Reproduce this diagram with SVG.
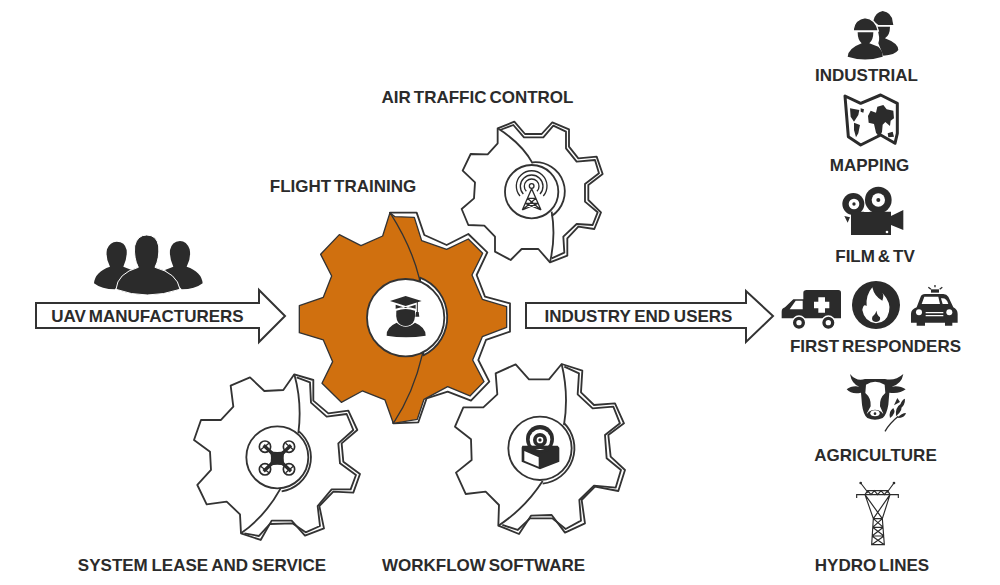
<svg xmlns="http://www.w3.org/2000/svg" width="1000" height="585" viewBox="0 0 1000 585">
<style>
text{font-family:"Liberation Sans",Arial,sans-serif;font-weight:700;font-size:17px;fill:#2b2b2b;text-anchor:middle;word-spacing:-1.8px}
.n{word-spacing:-1px}
.g{fill:#fff;stroke:#333;stroke-width:5.500;stroke-linejoin:round}
.l{fill:none;stroke:#333;stroke-width:5.500;stroke-linejoin:round}
.o{fill:#d0700f;stroke:#333;stroke-width:4;stroke-linejoin:round}
.d{fill:#2b2b2b}
.w{fill:#fff}
.t{fill:none;stroke:#2b2b2b;stroke-width:4}
.a{fill:#fff;stroke:#333;stroke-width:2}
</style>
<rect width="1000" height="585" fill="#fff"/>
<g id="connectors">
<path class="a" d="M36 303H259V290L285 316 259 342V328H36Z"/>
<path class="a" d="M526 303H746V291L773 316 746 342V328H526Z"/>
</g>
<g id="gear-air-traffic" transform="translate(450 110) scale(.3333)">
<path class="g" d="M143 55L143 100 113 133 62 132 38 182 75 217 72 265 35 297 55 345 103 347 135 380 135 425 182 450 215 417 265 417 300 457 352 437 352 385 385 350 433 357 453 307 415 270 415 225 458 192 440 140 385 145 357 110 357 58 307 37 275 72 225 72 193 35Z"/>
<path class="l" d="M150 60L190 45 222 82 280 82 310 47 348 65 348 115 380 155 435 150 447 190 405 222 405 275 443 307 428 345 380 342 340 380 343 428 305 445"/>
<path class="l" d="M143 55Q215 100 248 160M305 305Q318 380 300 457"/>
<path class="l" d="M248 157A88 88 0 0 1 305 318"/>
<circle class="g" cx="245" cy="245" r="80"/>
<g class="t"><circle cx="245" cy="228" r="7"/><path d="M229 244A22 22 0 1 1 261 244M220 252A34 34 0 1 1 270 252M210 258A46 46 0 1 1 280 258M245 236L217 300M245 236L273 300M232 265H258M226 280H264M217 300L258 265M273 300L232 265M217 300L264 280M273 300L226 280"/></g>
</g>
<g id="gear-system-lease" transform="translate(185 370) scale(.3333)">
<path class="g" d="M328 13L295 60 238 63 195 22 137 47 145 110 108 150 48 150 27 210 75 245 78 300 37 345 65 403 125 395 165 433 168 490 227 510 260 452 320 452 360 497 417 475 403 408 445 365 505 368 525 312 475 275 470 220 517 180 490 122 430 130 385 92 385 30Z"/>
<path class="l" d="M335 22L375 37 378 98 425 140 485 132 505 180 460 220 465 280 513 315 497 358 440 358 398 408 405 468 362 487 322 460 255 462 222 498 178 490"/>
<path class="l" d="M328 13Q352 100 340 190M287 355Q240 440 168 490"/>
<path class="l" d="M342 184A103 103 0 0 1 290 364"/>
<circle class="g" cx="277" cy="262" r="93"/>
<g fill="none" stroke="#2b2b2b" stroke-width="5"><circle cx="240" cy="230" r="17"/><circle cx="312" cy="230" r="17"/><circle cx="240" cy="298" r="17"/><circle cx="312" cy="298" r="17"/></g>
<path stroke="#2b2b2b" stroke-width="10" d="M236 226L318 304M318 226L236 304"/>
<path stroke="#2b2b2b" stroke-width="4" d="M226 240L252 220M302 220L326 240M226 288L252 308M302 308L326 288"/>
<path class="d" d="M254 242Q277 250 300 242 292 265 300 288 277 280 254 288 262 265 254 242Z"/>
</g>
<g id="gear-workflow" transform="translate(445 355) scale(.3333)">
<path class="g" d="M350 27L312 73 252 73 212 28 152 55 157 118 115 157 55 157 30 215 78 253 80 315 33 353 62 417 122 410 162 450 160 512 222 537 258 482 320 480 360 533 420 505 410 435 450 395 520 408 540 345 497 305 490 240 537 205 510 145 447 150 408 112 412 47Z"/>
<path class="l" d="M358 35L402 55 398 118 443 160 505 155 525 205 480 240 485 310 528 345 512 398 447 392 403 435 408 497 362 522 322 490 255 490 218 525 172 510"/>
<path class="l" d="M350 27Q372 120 357 210M293 378Q240 460 160 512"/>
<path class="l" d="M357 204A107 107 0 0 1 293 386"/>
<circle class="g" cx="285" cy="280" r="95"/>
<path class="d" d="M232 272H338L343 278V320L285 343 230 320V278Z"/>
<circle class="d" cx="285" cy="252" r="42"/>
<circle class="w" cx="285" cy="254" r="31"/>
<circle class="d" cx="285" cy="255" r="21"/>
<circle class="w" cx="285" cy="255" r="10"/>
<circle class="d" cx="285" cy="255" r="5"/>
<path class="d" d="M247 272H323V282H247Z"/>
<path class="w" d="M238 288L281 307V335L238 317Z"/>
</g>
<g id="gear-flight-training" transform="translate(280 190) scale(.3333)">
<path class="g" d="M330 68L410 68 433 135 500 165 565 132 622 187 590 255 615 320 690 340 690 425 618 450 595 510 628 575 573 632 503 605 440 625 415 697 340 700Z"/>
<path class="o" d="M330 68L345 80 403 82 425 152 500 178 565 147 608 190 576 255 607 328 680 350 680 412 607 440 578 510 612 575 570 618 503 590 432 628 412 688 340 700Z"/>
<path class="o" d="M330 68L308 138 243 167 178 134 122 193 155 258 130 322 58 347 58 428 130 450 158 515 126 580 184 637 247 603 315 630 340 700Q400 610 428 490L418 265Q395 170 330 68Z"/>
<path class="g" d="M420 263A127 127 0 0 1 430 496Z"/>
<circle class="g" cx="377" cy="383" r="116"/>
<path class="d" d="M330 333L377 318 425 333 377 348Z"/>
<path class="d" d="M347 344L377 354 407 344V356Q377 346 347 356Z"/>
<path class="d" d="M349 362Q377 352 405 362 408 395 392 404 377 412 362 404 346 395 349 362Z"/>
<path class="d" d="M320 437Q318 412 350 398 377 422 405 398 438 412 437 437 378 447 320 437Z"/>
<path stroke="#2b2b2b" stroke-width="3" d="M412 336V368"/>
<path class="d" d="M408 366H416L418 380H406Z"/>
</g>
<g id="uav-manufacturers-icon" transform="translate(30 230) scale(.3333)">
<path class="d" d="M192 160Q195 125 240 110 226 85 231 58 240 35 260 35 285 35 290 60 292 85 280 110L305 120 255 178Q215 178 192 160Z"/>
<path class="d" d="M518 160Q515 125 470 110 484 85 479 58 470 33 450 33 425 35 420 60 418 85 430 110L405 120 455 178Q495 178 518 160Z"/>
<path class="d" stroke="#fff" stroke-width="3" d="M258 178Q262 130 325 112 311 85 314 48 322 15 350 15 380 15 386 48 389 85 375 112 442 130 450 178 350 212 258 178Z"/>
</g>
<g id="industrial-icon" transform="translate(810 5) scale(.3333)">
<path class="d" d="M190 48Q195 22 218 18 245 22 248 50L250 60H205ZM200 65H240Q240 90 225 100 265 115 265 135 255 150 220 152L205 115Q212 100 200 65Z"/>
<path class="d" stroke="#fff" stroke-width="4" d="M130 72Q135 42 165 38 198 42 205 78H130Z"/>
<path class="d" d="M143 82H190Q190 105 178 115L205 125Q220 140 218 155 165 172 113 155 115 130 155 115 143 105 143 82Z"/>
</g>
<g id="mapping-icon" transform="translate(840 90) scale(.3333)">
<path class="g" style="stroke-width:9;stroke:#2b2b2b" d="M15 18L62 40 122 15 172 40V130L165 160 122 135 62 165 25 140Z"/>
<path class="d" d="M30 55L58 60 55 75 42 95 32 80ZM42 98L60 105 55 130 48 142 42 120ZM62 55L72 58 70 68 62 65Z"/>
<path class="d" d="M84 78L92 62 108 68 112 50 130 45 140 58 160 62 162 85 152 92 150 108 136 96 128 104 126 126 118 142 108 128 102 102 86 98Z"/>
<path class="d" d="M143 130L158 125 162 140 145 142Z"/>
</g>
<g id="film-tv-icon" transform="translate(775 180) scale(.3333)">
<circle class="d" cx="235" cy="72" r="33"/><circle class="d" cx="310" cy="60" r="40"/>
<circle class="w" cx="237" cy="72" r="16"/><circle class="w" cx="310" cy="60" r="20"/>
<circle class="d" cx="237" cy="72" r="5"/><circle class="d" cx="310" cy="60" r="6"/>
<path class="d" d="M228 95H348V165H228ZM348 108L385 90V150L348 135ZM208 108L225 112 218 128Z"/>
<path class="w" d="M275 85L285 96H266Z"/>
<circle class="w" cx="336" cy="156" r="4"/>
</g>
<g id="first-responders-icon" transform="translate(775 180) scale(.3333)">
<path class="d" d="M85 338Q85 330 95 330H190Q198 330 198 338V415H20V395Q20 385 30 382L55 358H85Z"/>
<path class="w" d="M62 362H83V388H44Z"/>
<path class="w" d="M130 352H150V365H163V385H150V398H130V385H117V365H130Z"/>
<circle class="d" stroke="#fff" stroke-width="4" cx="72" cy="428" r="20"/><circle class="w" cx="72" cy="428" r="8"/>
<circle class="d" stroke="#fff" stroke-width="4" cx="160" cy="428" r="20"/><circle class="w" cx="160" cy="428" r="8"/>
<circle class="d" cx="303" cy="375" r="72"/>
<path class="w" d="M292 322Q298 350 322 362 328 345 322 338 350 370 342 395 335 428 303 430 268 425 262 390 265 370 275 378 272 345 292 322Z"/>
<path class="d" d="M305 392Q305 405 315 412 318 425 303 426 288 424 292 410 300 405 305 392Z"/>
<path class="d" d="M425 382L437 350Q440 342 450 342H505Q515 342 520 350L535 382Q548 388 548 402V428H532V437H510V428H450V437H425V428H408V402Q408 388 425 382Z"/>
<path class="w" d="M448 350H490L495 372H440ZM498 355Q515 352 520 372H503Z"/>
<circle class="w" cx="432" cy="397" r="9"/><circle class="w" cx="523" cy="397" r="9"/>
<path class="w" d="M452 396H505V400H452ZM452 405H505V409H452Z"/>
<path class="d" d="M468 328H492V338H468Z"/>
<path class="t" d="M480 315V322M460 322L468 328M502 322L494 328"/>
</g>
<g id="agriculture-icon" transform="translate(840 368) scale(.3333)">
<path class="d" d="M30 18Q50 42 75 33H135Q165 40 190 18 185 48 155 56 180 52 197 64 180 78 148 74L145 110Q140 140 128 150 105 160 82 150 70 140 66 110L63 74Q35 80 20 64 35 52 58 56 35 48 30 18Z"/>
<path class="w" d="M78 50Q105 32 134 50L136 75Q118 90 120 115L130 137Q105 118 80 137L92 115Q94 90 76 75Z"/>
<path class="d" d="M85 132Q105 118 125 132 130 150 105 152 80 150 85 132Z"/>
<ellipse class="w" cx="105" cy="136" rx="14" ry="9"/>
<circle class="d" cx="105" cy="137" r="4"/>
<path fill="none" stroke="#2b2b2b" stroke-width="4" d="M135 190Q150 165 175 145"/>
<path class="d" d="M150 150Q145 130 160 120 170 135 150 150ZM168 145Q165 118 182 108 192 125 168 145ZM162 112L172 90 180 102ZM180 112Q185 95 195 92 196 112 180 122ZM172 150Q185 135 198 135 195 150 172 150Z"/>
</g>
<g id="hydro-lines-icon" transform="translate(845 478) scale(.3333)">
<g fill="none" stroke="#2b2b2b" stroke-width="3.500">
<path d="M47 15L70 45M147 15L125 45M35 60V50H160V60M60 50L68 38H128L135 50"/>
<path d="M68 38L78 50 88 38 98 50 108 38 118 50 128 38"/>
<path d="M60 50L85 122 80 200H118L112 122 135 50 85 122M60 50L112 122M85 122H112M83 148H115M81 174H117M85 122L115 148M112 122L83 148M83 148L117 174M115 148L81 174M81 174L118 200M117 174L80 200"/>
</g>
<circle class="d" cx="47" cy="15" r="4"/><circle class="d" cx="147" cy="15" r="4"/>
</g>
<g id="labels">
<text x="147.500" y="322">UAV MANUFACTURERS</text>
<text class="n" x="638.500" y="322">INDUSTRY END USERS</text>
<text x="477.500" y="103">AIR TRAFFIC CONTROL</text>
<text x="343" y="192">FLIGHT TRAINING</text>
<text class="n" x="202" y="571">SYSTEM LEASE AND SERVICE</text>
<text x="483.500" y="571">WORKFLOW SOFTWARE</text>
<text x="866.500" y="81">INDUSTRIAL</text>
<text x="869.500" y="171">MAPPING</text>
<text x="875" y="262">FILM &amp; TV</text>
<text x="875.500" y="352">FIRST RESPONDERS</text>
<text x="875.500" y="461">AGRICULTURE</text>
<text x="872" y="571">HYDRO LINES</text>
</g>
</svg>
